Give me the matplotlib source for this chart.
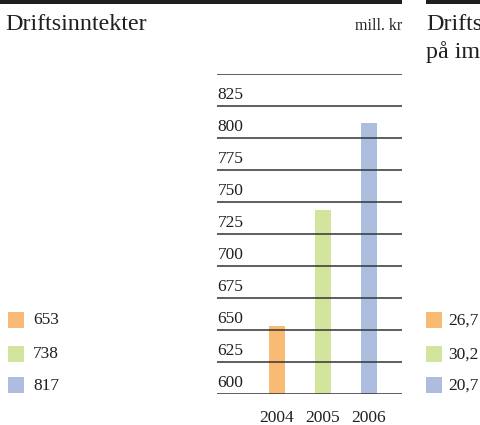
import matplotlib
matplotlib.use("Agg")
import matplotlib.pyplot as plt
from matplotlib.patches import Rectangle

# ---- data ----
years = ["2004", "2005", "2006"]
bar_values = [653, 744, 812]          # bar heights as drawn
legend_labels = ["653", "738", "817"]  # values printed in legend
right_legend_labels = ["26,7", "30,2", "20,7"]
colors = ["#F9BA73", "#D3E49C", "#ADBDE0"]
grid_levels = [600, 625, 650, 675, 700, 725, 750, 775, 800, 825, 850]
tick_labels = ["600", "625", "650", "675", "700", "725", "750", "775", "800", "825"]
title = "Driftsinntekter"
unit = "mill. kr"
right_title = ["Drifts", "på im"]   # visible part of the neighbouring panel's title

W, H = 481, 425
TXT = "#231f20"
plt.rcParams["font.family"] = ["Liberation Serif", "DejaVu Serif"]

fig = plt.figure(figsize=(W / 100, H / 100), dpi=100)

def fx(px):
    return px / W

def fy(py):
    return 1 - py / H

# main axes: x 217..402 px, y 850 at 74 px, 600 at 393.7 px
ax = fig.add_axes([fx(217), fy(393.7), fx(402) - fx(217), fy(74) - fy(393.7)])
ax.set_xlim(-1.304, 2.717)
ax.set_ylim(600, 850)
ax.axis("off")

xs = list(range(len(years)))
ax.bar(xs, [v - 600 for v in bar_values], bottom=600, width=0.348,
       color=colors, zorder=1)

for lvl in grid_levels:
    ax.axhline(lvl, color="#333333", lw=1.1, zorder=2)

for lbl in tick_labels:
    ax.annotate(lbl, xy=(0, float(lbl)), xycoords=ax.get_yaxis_transform(),
                xytext=(0.5, 2.2), textcoords="offset points",
                ha="left", va="bottom", fontsize=12.5, color=TXT)

for x, yr in zip(xs, years):
    ax.annotate(yr, xy=(x, 600), xycoords="data", xytext=(0, -11.5),
                textcoords="offset points", ha="center", va="top",
                fontsize=12.5, color=TXT, annotation_clip=False)

# header bars
fig.add_artist(Rectangle((fx(0), fy(4)), fx(402), fy(0) - fy(4),
                         transform=fig.transFigure, color="#1e1e1e", lw=0))
fig.add_artist(Rectangle((fx(426), fy(4)), fx(481) - fx(426), fy(0) - fy(4),
                         transform=fig.transFigure, color="#1e1e1e", lw=0))

fig.text(fx(5), fy(30), title, fontsize=17.3, color=TXT, ha="left", va="baseline")
fig.text(fx(402), fy(30), unit, fontsize=11.5, color=TXT, ha="right", va="baseline")
fig.text(fx(426), fy(30), right_title[0], fontsize=17.3, color=TXT, ha="left", va="baseline")
fig.text(fx(426), fy(58), right_title[1], fontsize=17.3, color=TXT, ha="left", va="baseline")

# legends
sq_tops = [312, 346, 377]
for top, c, l1, l2 in zip(sq_tops, colors, legend_labels, right_legend_labels):
    fig.add_artist(Rectangle((fx(8), fy(top + 16)), fx(16), fy(0) - fy(16),
                             transform=fig.transFigure, color=c, lw=0))
    fig.add_artist(Rectangle((fx(426), fy(top + 16)), fx(16), fy(0) - fy(16),
                             transform=fig.transFigure, color=c, lw=0))
    fig.text(fx(33), fy(top + 8.5), l1, fontsize=12.5, color=TXT, ha="left", va="center")
    fig.text(fx(448), fy(top + 8.5), l2, fontsize=12.5, color=TXT, ha="left", va="center")

fig.savefig("out.png", dpi=100)
